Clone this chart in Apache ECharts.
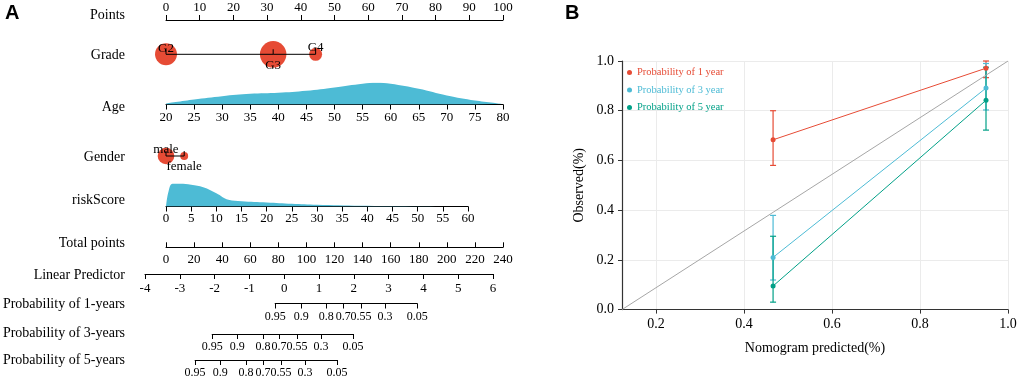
<!DOCTYPE html>
<html lang="en">
<head>
    <meta charset="utf-8">
    <script src="https://cdn.jsdelivr.net/npm/echarts@6.0.0/dist/echarts.min.js"></script>
</head>
<body style="margin: 0">
    <div id="chart" style="width: 1020px; height: 384px"></div>
    <script>
        // ---- A: nomogram ----
        var gradeLevels = ['G2', 'G3', 'G4'];
        var gradePoints = [0, 31.8, 44.4];
        var gradeCount = [135, 196, 47];

        var ageValues = [20, 25, 30, 35, 40, 45, 50, 55, 57.5, 60, 65, 70, 75, 80];
        var ageDensity = [0.0012, 0.006, 0.010, 0.0128, 0.014, 0.0164, 0.0204, 0.0248, 0.026, 0.0248, 0.0188, 0.0108, 0.0048, 0.0008];

        var genderLevels = ['male', 'female'];
        var genderPoints = [0, 5.4];
        var genderCount = [250, 57];

        var riskValues = [0, 0.5, 1.3, 2.8, 5, 7.4, 10, 12.4, 15, 20, 25, 30, 38.6, 49, 60];
        var riskDensity = [0, 0.075, 0.1135, 0.1135, 0.1085, 0.0965, 0.0665, 0.0335, 0.0265, 0.02, 0.0135, 0.0085, 0.0035, 0.0015, 0];

        var probLabels = ['0.95', '0.9', '0.8', '0.7', '0.55', '0.3', '0.05'];
        var prob1yLp = [-0.26, 0.49, 1.21, 1.70, 2.21, 2.90, 3.82];
        var prob3yLp = [-2.07, -1.35, -0.61, -0.15, 0.37, 1.06, 1.98];
        var prob5yLp = [-2.56, -1.84, -1.10, -0.61, -0.09, 0.60, 1.52];

        // ---- B: calibration ----
        var calPredicted = [0.466, 0.95];
        var cal1y = [0.683, 0.971], cal1yLow = [0.58, 0.933], cal1yHigh = [0.80, 1.0];
        var cal3y = [0.21, 0.891], cal3yLow = [0.119, 0.803], cal3yHigh = [0.379, 0.99];
        var cal5y = [0.095, 0.842], cal5yLow = [0.03, 0.722], cal5yHigh = [0.295, 0.975];
        var calXTicks = [0.2, 0.4, 0.6, 0.8, 1.0];

        var serif = 'Liberation Serif';
        var red = '#e64b35', blue = '#4dbbd5', green = '#00a087';

        var chart = echarts.init(document.getElementById('chart'));

        var lpLeft = 145, lpWidth = 348, lpMin = -4, lpMax = 6;
        function probGrid(lp, bottomY) {
            var l = lpLeft + (lp[0] - lpMin) / (lpMax - lpMin) * lpWidth;
            var w = (lp[lp.length - 1] - lp[0]) / (lpMax - lpMin) * lpWidth;
            return { left: l, width: w, top: bottomY - 10, height: 10 };
        }

        var grids = [
            { left: 166, width: 337, top: 20, height: 10 },      // points
            { left: 166, width: 337, top: 44.3, height: 20 },    // grade
            { left: 166, width: 337, top: 82.5, height: 22 },    // age
            { left: 166, width: 337, top: 146, height: 20 },     // gender
            { left: 166, width: 302, top: 182.5, height: 24 },   // riskScore
            { left: 166, width: 337, top: 237.3, height: 10 },   // total points
            { left: lpLeft, width: lpWidth, top: 264, height: 10 }, // linear predictor
            probGrid(prob1yLp, 303.5),
            probGrid(prob3yLp, 334),
            probGrid(prob5yLp, 360),
            { left: 622, width: 386, top: 61, height: 248.6 }    // calibration
        ];
        grids.forEach(function (g) { g.outerBoundsMode = 'none'; g.containLabel = false; });

        function nomoAxis(idx, opt) {
            var a = {
                gridIndex: idx, type: 'value', position: opt.position || 'bottom',
                min: opt.min, max: opt.max,
                axisLine: { show: opt.line !== false, onZero: false, lineStyle: { color: '#000', width: 1 } },
                axisTick: { show: opt.line !== false, length: 5, inside: !!opt.inside, lineStyle: { color: '#000' } },
                axisLabel: {
                    show: opt.line !== false, margin: opt.margin || 6, color: '#000',
                    fontSize: opt.fontSize || 13, fontFamily: serif, showMinLabel: true, showMaxLabel: true
                },
                splitLine: { show: false }
            };
            if (opt.interval) a.interval = opt.interval;
            if (opt.ticks) {
                a.axisTick.customValues = opt.ticks;
                a.axisLabel.customValues = opt.ticks;
                a.axisLabel.formatter = function (v) {
                    for (var i = 0; i < opt.ticks.length; i++) {
                        if (Math.abs(opt.ticks[i] - v) < 1e-9) return opt.names[i];
                    }
                    return '';
                };
            }
            return a;
        }

        var xAxes = [
            nomoAxis(0, { min: 0, max: 100, interval: 10, position: 'top' }),
            nomoAxis(1, { min: 0, max: 100, line: false }),
            nomoAxis(2, { min: 20, max: 80, interval: 5, margin: 7 }),
            nomoAxis(3, { min: 0, max: 100, line: false }),
            nomoAxis(4, { min: 0, max: 60, interval: 5 }),
            nomoAxis(5, { min: 0, max: 240, interval: 20, inside: true }),
            nomoAxis(6, { min: lpMin, max: lpMax, interval: 1, margin: 8 }),
            nomoAxis(7, { min: prob1yLp[0], max: prob1yLp[6], ticks: prob1yLp, names: probLabels, fontSize: 12, margin: 7 }),
            nomoAxis(8, { min: prob3yLp[0], max: prob3yLp[6], ticks: prob3yLp, names: probLabels, fontSize: 12, margin: 7 }),
            nomoAxis(9, { min: prob5yLp[0], max: prob5yLp[6], ticks: prob5yLp, names: probLabels, fontSize: 12, margin: 7 }),
            {
                gridIndex: 10, type: 'value', min: 0.1226, max: 1.0,
                name: 'Nomogram predicted(%)', nameLocation: 'middle', nameGap: 32,
                nameTextStyle: { color: '#000', fontSize: 14, fontFamily: serif },
                axisLine: { onZero: false, lineStyle: { color: '#333', width: 1.2 } },
                axisTick: { length: 4, customValues: calXTicks, lineStyle: { color: '#333' } },
                axisLabel: {
                    customValues: calXTicks, margin: 8, color: '#000', fontSize: 14, fontFamily: serif,
                    formatter: function (v) { return v.toFixed(1); }
                },
                splitLine: { show: true, lineStyle: { color: '#ebebeb', width: 1 } }
            }
        ];

        var yAxes = [];
        var yRanges = [[0, 1], [-1, 1], [0, 0.0264], [-1, 1], [0, 0.12], [0, 1], [0, 1], [0, 1], [0, 1], [0, 1]];
        yRanges.forEach(function (r, i) {
            yAxes.push({ gridIndex: i, type: 'value', min: r[0], max: r[1], show: false });
        });
        yAxes.push({
            gridIndex: 10, type: 'value', min: 0, max: 1, interval: 0.2,
            name: 'Observed(%)', nameLocation: 'middle', nameGap: 36,
            nameTextStyle: { color: '#000', fontSize: 14, fontFamily: serif },
            axisLine: { show: true, lineStyle: { color: '#333', width: 1.2 } },
            axisTick: { show: true, length: 4, lineStyle: { color: '#333' } },
            axisLabel: { margin: 8, color: '#000', fontSize: 14, fontFamily: serif, formatter: function (v) { return v.toFixed(1); } },
            splitLine: { show: true, lineStyle: { color: '#ebebeb', width: 1 } }
        });

        function zip(a, b) { return a.map(function (v, i) { return [v, b[i]]; }); }

        // categorical rows: circles + connecting line with small ticks
        function levelSeries(idx, points, counts, levels, k, offsets) {
            return [{
                type: 'scatter', xAxisIndex: idx, yAxisIndex: idx, z: 2,
                itemStyle: { color: red, opacity: 1 },
                data: points.map(function (p, i) {
                    return {
                        value: [p, 0], symbolSize: Math.sqrt(counts[i]) * k,
                        label: {
                            show: true, position: 'inside', offset: offsets[i], formatter: levels[i],
                            color: '#000', fontSize: 13, fontFamily: serif
                        }
                    };
                })
            }, {
                type: 'line', xAxisIndex: idx, yAxisIndex: idx, z: 3, silent: true,
                data: points.map(function (p) { return [p, 0]; }),
                symbol: 'rect', symbolSize: [1, 5], symbolOffset: [0, -2.5],
                itemStyle: { color: '#000' }, lineStyle: { color: '#000', width: 1 }
            }];
        }

        function densitySeries(idx, xs, ys) {
            return {
                type: 'line', xAxisIndex: idx, yAxisIndex: idx, smooth: 0.4, symbol: 'none', silent: true,
                data: zip(xs, ys), lineStyle: { width: 0 }, areaStyle: { color: blue, opacity: 1 }
            };
        }

        function errorBars(low, high, color) {
            return {
                type: 'custom', xAxisIndex: 10, yAxisIndex: 10, clip: false, silent: true,
                data: calPredicted.map(function (x, i) { return [x, low[i], high[i]]; }),
                encode: { x: 0, y: [1, 2] },
                renderItem: function (params, api) {
                    var lo = api.coord([api.value(0), api.value(1)]);
                    var hi = api.coord([api.value(0), api.value(2)]);
                    var st = { stroke: color, lineWidth: 1.2 };
                    return {
                        type: 'group', children: [
                            { type: 'line', shape: { x1: lo[0], y1: lo[1], x2: hi[0], y2: hi[1] }, style: st },
                            { type: 'line', shape: { x1: lo[0] - 3, y1: lo[1], x2: lo[0] + 3, y2: lo[1] }, style: st },
                            { type: 'line', shape: { x1: hi[0] - 3, y1: hi[1], x2: hi[0] + 3, y2: hi[1] }, style: st }
                        ]
                    };
                }
            };
        }

        function calLine(name, ys, color) {
            return {
                name: name, type: 'line', xAxisIndex: 10, yAxisIndex: 10, data: zip(calPredicted, ys),
                symbol: 'circle', symbolSize: 5, itemStyle: { color: color }, lineStyle: { color: color, width: 1 }, z: 4
            };
        }

        var series = []
            .concat(levelSeries(1, gradePoints, gradeCount, gradeLevels, 1.89, [[0, -6], [0, 11], [0, -6.5]]))
            .concat([densitySeries(2, ageValues, ageDensity)])
            .concat(levelSeries(3, genderPoints, genderCount, genderLevels, 1.05, [[0, -6.5], [0, 11]]))
            .concat([densitySeries(4, riskValues, riskDensity)])
            .concat([{
                type: 'line', xAxisIndex: 10, yAxisIndex: 10, silent: true, symbol: 'none',
                data: [[0.1226, 0], [1.0, 1.0]], lineStyle: { color: '#a6a6a6', width: 1 }
            }])
            .concat([errorBars(cal1yLow, cal1yHigh, red), errorBars(cal3yLow, cal3yHigh, blue), errorBars(cal5yLow, cal5yHigh, green)])
            .concat([
                calLine('Probability of 1 year', cal1y, red),
                calLine('Probability of 3 year', cal3y, blue),
                calLine('Probability of 5 year', cal5y, green)
            ]);

        var rowLabels = [
            ['Points', 15], ['Grade', 55], ['Age', 107], ['Gender', 157], ['riskScore', 200],
            ['Total points', 243], ['Linear Predictor', 275], ['Probability of 1-years', 304],
            ['Probability of 3-years', 333], ['Probability of 5-years', 360]
        ];
        var graphics = rowLabels.map(function (r) {
            return {
                type: 'text', x: 125, y: r[1],
                style: { text: r[0], font: '14px "Liberation Serif"', fill: '#000', align: 'right', verticalAlign: 'middle' }
            };
        });
        graphics.push({ type: 'text', x: 5, y: 3, style: { text: 'A', font: 'bold 20px "Liberation Sans"', fill: '#000', verticalAlign: 'top' } });
        graphics.push({ type: 'text', x: 565, y: 3, style: { text: 'B', font: 'bold 20px "Liberation Sans"', fill: '#000', verticalAlign: 'top' } });

        chart.setOption({
            animation: false,
            grid: grids,
            xAxis: xAxes,
            yAxis: yAxes,
            legend: {
                orient: 'vertical', left: 622, top: 62, icon: 'circle', itemWidth: 5, itemHeight: 5, itemGap: 6.5,
                textStyle: { fontSize: 10.5, fontFamily: serif },
                data: [
                    { name: 'Probability of 1 year', textStyle: { color: red } },
                    { name: 'Probability of 3 year', textStyle: { color: blue } },
                    { name: 'Probability of 5 year', textStyle: { color: green } }
                ]
            },
            graphic: graphics,
            series: series
        });
    </script>
</body>
</html>
